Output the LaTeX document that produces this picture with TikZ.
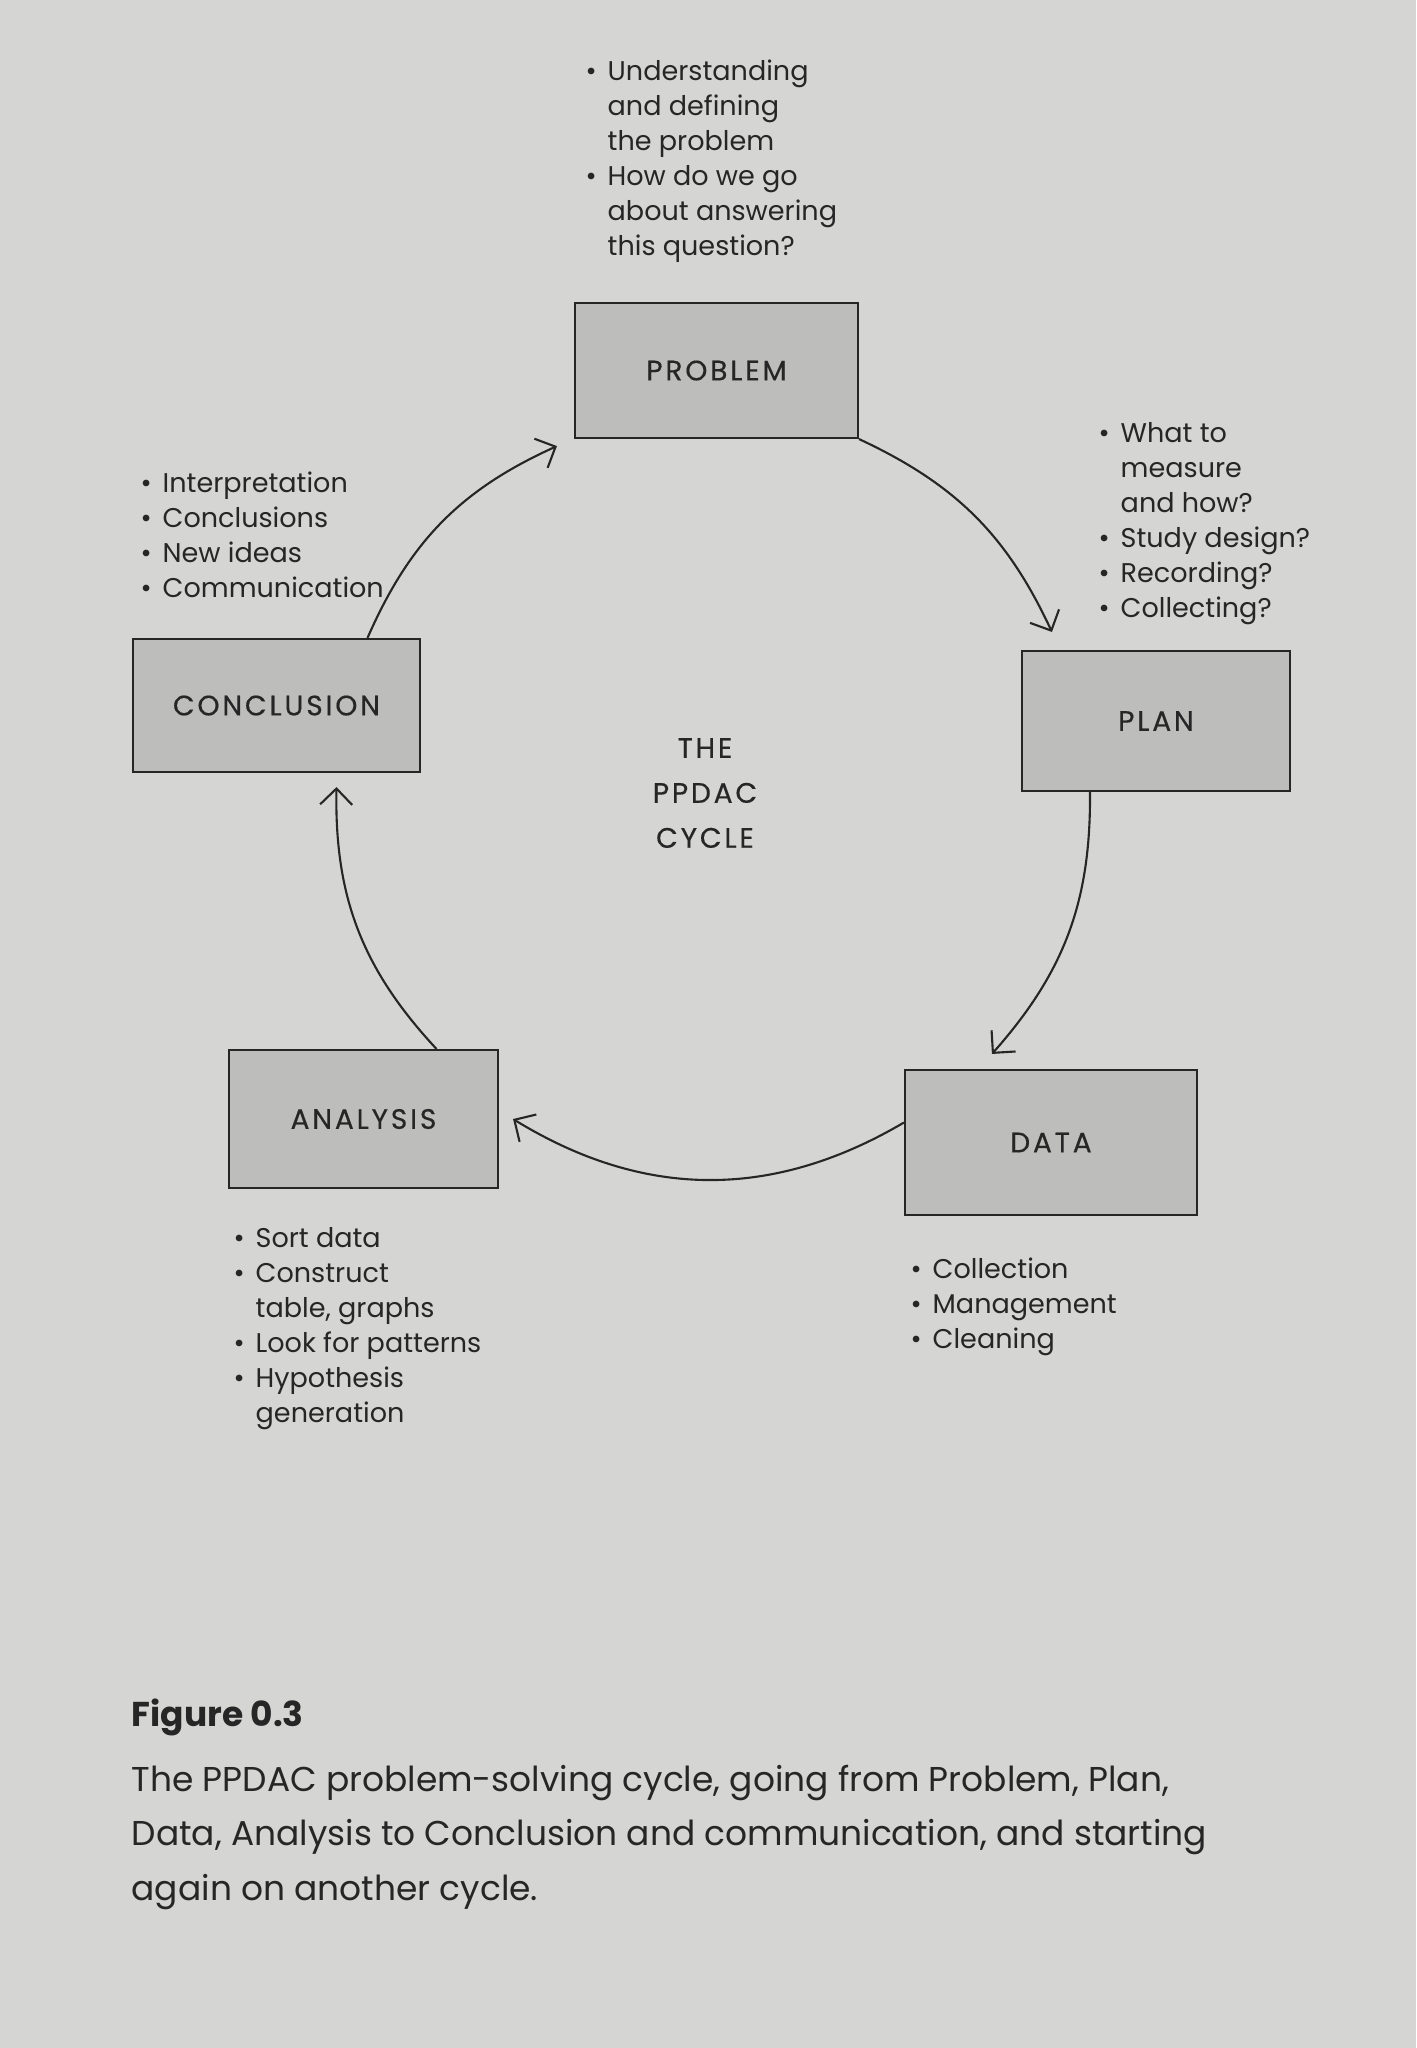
\documentclass[tikz,border=0pt]{standalone}
\usepackage{fontspec}
\setmainfont{Poppins}
\newfontfamily\stagefont[LetterSpace=10,FakeBold=0.4]{Poppins}
\usepackage{xcolor}
\usepackage{tikz}
\usetikzlibrary{arrows.meta,calc}
\definecolor{PageGrey}{HTML}{D5D6D4}
\definecolor{BoxGrey}{HTML}{BDBEBC}
\definecolor{InkGrey}{HTML}{262626}

\begin{document}
\begin{tikzpicture}[x=1cm,y=1cm,
  stage/.style={draw=InkGrey,fill=BoxGrey,line width=0.6pt,inner sep=0pt,text=InkGrey,font=\stagefont\fontsize{8}{10}\selectfont},
  notes/.style={anchor=base west,inner sep=0pt,text=InkGrey,font=\fontsize{7.7}{10}\selectfont},
  flow/.style={draw=InkGrey,line width=0.6pt,-{Straight Barb[length=1.6mm,width=3.2mm]}}]
\fill[PageGrey] (0,0) rectangle (14.16,-20.48);
\node[stage,minimum width=2.83cm,minimum height=1.35cm] (problem) at (7.165,-3.705) {PROBLEM};
\node[stage,minimum width=2.68cm,minimum height=1.40cm] (plan) at (11.56,-7.21) {PLAN};
\node[stage,minimum width=2.92cm,minimum height=1.45cm] (data) at (10.51,-11.425) {DATA};
\node[stage,minimum width=2.69cm,minimum height=1.38cm] (analysis) at (3.635,-11.19) {ANALYSIS};
\node[stage,minimum width=2.87cm,minimum height=1.33cm] (conclusion) at (2.765,-7.055) {CONCLUSION};
\node[text=InkGrey,align=center,font=\stagefont\fontsize{8}{12.8}\selectfont] (cycle) at (7.05,-7.93) {THE\\PPDAC\\CYCLE};
\node[notes] (problemnotes) at (5.85,-0.80) {\begin{tabular}[t]{@{}p{2.2mm}@{}l@{}}
  \textbullet & Understanding\\ & and defining\\ & the problem\\
  \textbullet & How do we go\\ & about answering\\ & this question?\end{tabular}};
\node[notes] (plannotes) at (10.98,-4.42) {\begin{tabular}[t]{@{}p{2.2mm}@{}l@{}}
  \textbullet & What to\\ & measure\\ & and how?\\
  \textbullet & Study design?\\ \textbullet & Recording?\\ \textbullet & Collecting?\end{tabular}};
\node[notes] (conclusionnotes) at (1.40,-4.92) {\begin{tabular}[t]{@{}p{2.2mm}@{}l@{}}
  \textbullet & Interpretation\\ \textbullet & Conclusions\\
  \textbullet & New ideas\\ \textbullet & Communication\end{tabular}};
\node[notes] (analysisnotes) at (2.33,-12.47) {\begin{tabular}[t]{@{}p{2.2mm}@{}l@{}}
  \textbullet & Sort data\\ \textbullet & Construct\\ & table, graphs\\
  \textbullet & Look for patterns\\ \textbullet & Hypothesis\\ & generation\end{tabular}};
\node[notes] (datanotes) at (9.10,-12.78) {\begin{tabular}[t]{@{}p{2.2mm}@{}l@{}}
  \textbullet & Collection\\ \textbullet & Management\\ \textbullet & Cleaning\end{tabular}};
\draw[flow] (problem.south east) to[bend left=20] ([xshift=3.1mm,yshift=1.8mm]plan.north west);
\draw[flow] ([xshift=-6.6mm]plan.south) to[bend left=21] ([xshift=8.8mm,yshift=1.5mm]data.north west);
\draw[flow] ([yshift=2mm]data.west) to[bend left=31] ([xshift=1.4mm]analysis.east);
\draw[flow] ([xshift=7.3mm]analysis.north) to[bend left=22] ([xshift=6mm,yshift=-1.4mm]conclusion.south);
\draw[flow] ([xshift=9.1mm]conclusion.north) to[bend left=21] ([xshift=-1.7mm,yshift=-0.7mm]problem.south west);
\node[anchor=north west,inner sep=0pt,text=InkGrey,font=\bfseries\fontsize{9.8}{15.6}\selectfont] (figlabel) at (1.31,-16.98) {Figure 0.3};
\node[anchor=north west,inner sep=0pt,align=left,text=InkGrey,font=\fontsize{9.8}{15.6}\selectfont] (caption) at (1.31,-17.64) {The PPDAC problem-solving cycle, going from Problem, Plan,\\Data, Analysis to Conclusion and communication, and starting\\again on another cycle.};
\end{tikzpicture}
\end{document}
